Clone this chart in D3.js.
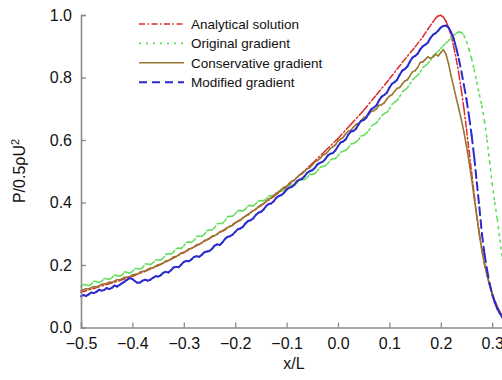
<!DOCTYPE html>
<html><head><meta charset="utf-8">
<script src="https://cdn.jsdelivr.net/npm/d3@7"></script>
<style>body{margin:0;background:#fff}svg{display:block}</style>
</head><body>
<svg id="chart" width="502" height="380"></svg>
<script>
// Axis ticks
const xTicks = [-0.5, -0.4, -0.3, -0.2, -0.1, 0.0, 0.1, 0.2, 0.3];
const yTicks = [0.0, 0.2, 0.4, 0.6, 0.8, 1.0];
const seriesNames = ["Analytical solution", "Original gradient", "Conservative gradient", "Modified gradient"];

// Sampling grid of the computed curves, x/L from -0.5 to 0.2
const gridStart = -0.5, gridStep = 0.005, gridCount = 141;

// Analytical solution
const analyticalX = [-0.5,-0.475,-0.45,-0.425,-0.4,-0.375,-0.35,-0.325,-0.3,-0.275,-0.25,-0.225,-0.2,-0.175,-0.15,-0.125,-0.1,-0.075,-0.05,-0.025,0,0.025,0.05,0.075,0.1,0.125,0.15,0.165,0.175,0.185,0.19,0.195,0.2,0.205,0.21,0.215,0.22,0.225,0.23,0.235,0.24,0.245,0.25,0.255,0.26,0.265,0.27,0.275,0.28,0.285,0.29,0.295,0.3,0.305,0.31,0.315,0.32,0.325,0.33,0.335];
const analyticalY = [.113,.125,.138,.150,.164,.180,.198,.218,.240,.262,.285,.309,.335,.362,.390,.419,.450,.487,.525,.565,.605,.650,.695,.745,.795,.848,.898,.930,.955,.978,.990,.997,.999,.993,.980,.960,.935,.900,.860,.812,.760,.700,.635,.565,.495,.425,.360,.300,.250,.205,.168,.137,.110,.087,.067,.050,.036,.024,.013,.005];

// Original gradient
const originalY = [.130,.138,.136,.134,.138,.148,.147,.144,.148,.157,
.156,.154,.159,.168,.166,.164,.168,.178,.176,.174,
.179,.189,.188,.187,.192,.203,.203,.201,.207,.217,
.216,.216,.222,.234,.236,.235,.241,.253,.254,.253,
.261,.272,.274,.272,.279,.292,.292,.292,.298,.310,
.312,.312,.319,.332,.333,.333,.341,.354,.356,.356,
.364,.374,.374,.373,.379,.390,.390,.389,.396,.405,
.406,.405,.411,.421,.422,.421,.428,.437,.438,.438,
.444,.454,.455,.455,.462,.472,.473,.474,.480,.490,
.490,.493,.502,.512,.515,.517,.525,.536,.539,.541,
.549,.561,.564,.567,.575,.587,.589,.593,.601,.613,
.615,.621,.631,.645,.650,.655,.665,.679,.684,.689,
.699,.714,.721,.727,.739,.754,.760,.767,.779,.793,
.800,.807,.818,.832,.838,.845,.856,.870,.876,.884,
.893];
const originalTailX = [0.205,0.21,0.215,0.22,0.225,0.23,0.235,0.24,0.245,0.25,0.255,0.26,0.265,0.27,0.275,0.28,0.285,0.29,0.295,0.3,0.305,0.31,0.315,0.32,0.325,0.33,0.335,0.34];
const originalTailY = [.902,.910,.918,.926,.935,.942,.946,.944,.934,.915,.890,.860,.825,.785,.745,.710,.660,.600,.530,.460,.400,.345,.280,.220,.170,.120,.080,.050];

// Conservative gradient
const conservativeY = [.118,.121,.124,.124,.127,.131,.130,.133,.138,.139,
.141,.145,.145,.148,.153,.153,.156,.161,.161,.163,
.168,.170,.171,.177,.180,.181,.186,.190,.191,.196,
.201,.202,.207,.213,.214,.219,.226,.227,.232,.239,
.240,.245,.252,.253,.258,.265,.266,.271,.278,.281,
.285,.292,.294,.298,.306,.308,.312,.320,.323,.327,
.335,.339,.343,.351,.356,.360,.368,.374,.378,.386,
.392,.396,.404,.411,.415,.423,.430,.434,.442,.449,
.452,.461,.468,.471,.480,.488,.491,.500,.508,.511,
.520,.530,.534,.541,.551,.555,.562,.573,.578,.584,
.597,.603,.608,.620,.628,.631,.641,.650,.653,.662,
.672,.675,.682,.692,.694,.700,.711,.713,.719,.731,
.740,.745,.756,.765,.768,.779,.789,.793,.805,.818,
.822,.832,.848,.850,.858,.866,.861,.866,.874,.869,
.880];
const conservativeTailX = [0.205,0.21,0.215,0.22,0.225,0.23,0.235,0.24,0.245,0.25,0.255,0.26,0.265,0.27,0.275,0.28,0.285,0.29,0.295,0.3,0.305,0.31,0.315,0.32,0.325,0.33];
const conservativeTailY = [.889,.875,.845,.805,.770,.735,.700,.665,.625,.580,.530,.475,.415,.355,.298,.245,.203,.167,.136,.108,.085,.065,.048,.033,.020,.010];

// Modified gradient
const modifiedY = [.100,.104,.101,.106,.112,.110,.114,.121,.118,.120,
.126,.123,.127,.134,.131,.136,.142,.147,.153,.158,
.155,.148,.143,.144,.150,.153,.150,.153,.159,.164,
.163,.167,.175,.178,.176,.183,.192,.194,.193,.201,
.210,.213,.212,.218,.226,.228,.226,.233,.241,.243,
.245,.252,.262,.266,.264,.272,.283,.290,.292,.297,
.306,.314,.317,.322,.333,.341,.343,.349,.360,.367,
.370,.377,.388,.395,.397,.404,.415,.421,.424,.431,
.441,.447,.450,.457,.468,.473,.476,.484,.495,.500,
.503,.511,.522,.527,.530,.538,.550,.556,.558,.567,
.580,.592,.595,.602,.617,.627,.629,.636,.650,.661,
.664,.671,.687,.699,.704,.711,.727,.739,.744,.751,
.767,.780,.785,.793,.809,.822,.827,.835,.851,.864,
.869,.876,.890,.900,.905,.912,.927,.937,.942,.950,
.960];
const modifiedTailX = [0.205,0.21,0.215,0.22,0.225,0.23,0.235,0.24,0.245,0.25,0.255,0.26,0.265,0.27,0.275,0.28,0.285,0.29,0.295,0.3,0.305,0.31,0.315,0.32,0.325,0.33];
const modifiedTailY = [.965,.966,.960,.945,.925,.895,.860,.820,.775,.730,.675,.615,.545,.465,.385,.300,.235,.185,.140,.105,.080,.060,.045,.032,.020,.010];

const gridX = d3.range(gridCount).map(i => +(gridStart + i * gridStep).toFixed(3));
const zip = (xs, ys) => xs.map((x, i) => [x, ys[i]]);

const series = [
  {name: seriesNames[0], pts: zip(analyticalX, analyticalY), color: "#de2b2b", width: 1.5, dash: "6,2.5,1.5,2.5"},
  {name: seriesNames[1], pts: zip(gridX, originalY).concat(zip(originalTailX, originalTailY)), color: "#62dc5c", width: 1.6, dash: "2,5"},
  {name: seriesNames[2], pts: zip(gridX, conservativeY).concat(zip(conservativeTailX, conservativeTailY)), color: "#9a7630", width: 1.6, dash: null},
  {name: seriesNames[3], pts: zip(gridX, modifiedY).concat(zip(modifiedTailX, modifiedTailY)), color: "#2b2bcf", width: 2, dash: "8,5"}
];

const svg = d3.select("#chart");
const x = d3.scaleLinear().domain([-0.5, 0.33]).range([81, 81 + 0.83 * 514]);
const y = d3.scaleLinear().domain([0, 1]).range([327.5, 15]);
const font = "Arial, 'Liberation Sans', sans-serif";
const axisColor = "#8a8a8a";

// Curves: every segment carries its own dash pattern, so dense noisy
// stretches read as solid and the steep fall shows the pattern
const plot = svg.append("g");
series.forEach(s => {
  plot.append("g")
    .selectAll("line")
    .data(d3.pairs(s.pts))
    .join("line")
    .attr("x1", d => x(d[0][0])).attr("y1", d => y(d[0][1]))
    .attr("x2", d => x(d[1][0])).attr("y2", d => y(d[1][1]))
    .attr("stroke", s.color)
    .attr("stroke-width", s.width)
    .attr("stroke-linecap", "round")
    .attr("stroke-dasharray", s.dash);
});

// Axes with inward ticks
const yAxis = svg.append("g").attr("transform", "translate(81,0)")
  .call(d3.axisLeft(y).tickValues(yTicks).tickSize(-5).tickPadding(9).tickFormat(d3.format(".1f")));
const xAxis = svg.append("g").attr("transform", "translate(0,327.5)")
  .call(d3.axisBottom(x).tickValues(xTicks).tickSize(-5).tickPadding(10).tickFormat(d3.format(".1f")));
[xAxis, yAxis].forEach(a => {
  a.select(".domain").attr("stroke", axisColor).attr("stroke-width", 1.6);
  a.selectAll(".tick line").attr("stroke", axisColor).attr("stroke-width", 1.3);
  a.selectAll(".tick text").attr("fill", "#111").style("font-size", "16px").style("font-family", font);
});

// Axis titles
svg.append("text").attr("x", 294).attr("y", 369).attr("text-anchor", "middle")
  .style("font-family", font).style("font-size", "16px").attr("fill", "#111").text("x/L");
const yl = svg.append("text").attr("transform", "translate(25,171) rotate(-90)").attr("text-anchor", "middle")
  .style("font-family", font).style("font-size", "16px").attr("fill", "#111");
yl.append("tspan").text("P/0.5ρU");
yl.append("tspan").attr("dy", -6).style("font-size", "11px").text("2");

// Legend
const legend = svg.append("g");
series.forEach((s, i) => {
  const ly = 24 + i * 19.4;
  legend.append("line").attr("x1", 139).attr("x2", 184).attr("y1", ly).attr("y2", ly)
    .attr("stroke", s.color).attr("stroke-width", s.width).attr("stroke-dasharray", s.dash);
  legend.append("text").attr("x", 191).attr("y", ly).attr("dy", "0.35em")
    .style("font-family", font).style("font-size", "13.5px").attr("fill", "#111").text(s.name);
});
</script>
</body></html>
